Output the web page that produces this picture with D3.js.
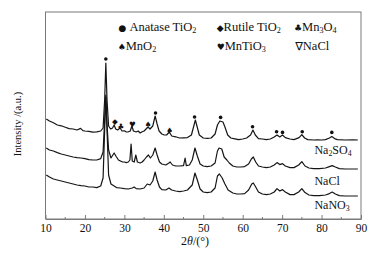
<!DOCTYPE html>
<html>
<head>
<meta charset="utf-8">
<script src="https://cdn.jsdelivr.net/npm/d3@7"></script>
<style>
  body { margin: 0; background: #fff; }
  svg text { font-family: "Liberation Serif", "Times New Roman", serif; fill: #111; }
</style>
</head>
<body>
<div id="chart"></div>
<script>

// XRD patterns, 2theta (deg) vs intensity (a.u., stacked)
var na2so4 = [
    [10.2,500],[11,490],[12,481],[13,470],[14,466],[15,459],[16,452],[17,450],[18,445],[18.9,453],[19.5,442],
    [20,440],[21,438],[22,434],[23,436],[24,440],[24.6,455],[25.0,595],[25.3,780],[25.6,595],[26.0,465],
    [26.5,450],[27.0,455],[27.4,470],[27.8,450],[28.3,445],[28.9,455],[29.4,440],[30,441],[30.5,435],
    [31,436],[31.5,440],[31.9,465],[32.3,440],[33,435],[33.5,440],[34,430],[34.5,436],[35,440],[35.5,450],
    [36.0,460],[36.5,450],[37.2,465],[37.8,515],[38.3,475],[38.8,440],[39.5,425],[40,421],[40.7,420],
    [41.4,435],[42,415],[43,411],[44,405],[45,406],[46,407],[47,420],[47.6,465],[48.0,495],[48.4,465],
    [49,420],[50,405],[51,403],[52,405],[53,425],[53.6,470],[54.2,490],[55.0,485],[55.5,460],[56.2,420],
    [57,405],[58,401],[59,397],[60,400],[61,405],[62,420],[62.6,445],[63.2,420],[64,402],[65,400],[66,397],
    [67,400],[68,410],[68.7,420],[69.4,410],[70.1,420],[70.8,407],[72,400],[73,397],[74.3,407],[75.0,422],
    [75.7,405],[76.5,397],[78,395],[79,396],[80,395],[81,397],[82,405],[82.6,412],[83.3,402],[84,397],
    [86,395],[88,396],[89.2,395]
];
var nacl = [
    [10.2,355],[11,345],[12,340],[13,332],[14,325],[15,320],[16,315],[17,310],[18,307],[19,305],[20,302],
    [21,297],[22,295],[23,295],[24,302],[24.6,335],[25.0,495],[25.3,610],[25.6,470],[26.0,345],[26.6,305],
    [27.4,330],[28,310],[28.5,295],[29,290],[29.5,285],[30,285],[30.5,282],[31,285],[31.4,295],[31.7,375],
    [32.0,290],[32.5,285],[32.9,320],[33.3,285],[34,280],[34.5,285],[35,295],[35.6,310],[36.1,320],
    [36.6,305],[37.2,320],[37.8,355],[38.3,320],[38.9,285],[39.5,275],[40.5,270],[41.3,280],[41.6,285],
    [42.2,270],[43,265],[44,265],[45,267],[45.4,305],[45.7,267],[46.5,270],[47.2,295],[47.9,355],[48.5,315],
    [49.2,275],[50,265],[51,262],[52,265],[53,280],[53.6,340],[54.0,355],[54.7,350],[55.3,310],[56,295],
    [56.6,280],[57.5,265],[58.5,260],[59.5,260],[60.5,262],[61.5,275],[62.2,300],[62.7,310],[63.3,285],
    [64,265],[65,260],[66,257],[67,260],[68,270],[68.7,282],[69.4,272],[70.1,277],[70.8,265],[72,257],
    [73,257],[74.2,270],[75.0,287],[75.8,265],[76.8,255],[78,252],[79.5,252],[81,255],[82,262],[82.7,267],
    [83.5,260],[84.5,252],[86,250],[88,250],[89.2,250]
];
var nano3 = [
    [10.2,220],[11,210],[12,200],[13,195],[14,190],[15,185],[16,180],[17,175],[18,170],[19,167],[20,165],
    [21,160],[22,160],[23,157],[24,165],[24.6,205],[25.0,445],[25.3,620],[25.6,445],[26.0,220],[26.6,175],
    [27.4,165],[28,157],[29,155],[30,152],[31,150],[32,155],[32.5,160],[33,152],[34,150],[35,155],
    [35.8,175],[36.5,170],[37.2,190],[37.8,235],[38.3,195],[38.9,160],[39.5,147],[40.5,145],[41.3,155],
    [42,145],[43,140],[44,137],[45,140],[46,145],[47.2,170],[47.9,230],[48.5,195],[49.2,150],[50,135],
    [51,132],[52,135],[53,155],[53.6,215],[54.1,225],[54.8,205],[55.5,175],[56.3,145],[57.5,130],[58.5,125],
    [59.5,125],[60.5,127],[61.5,145],[62.3,175],[62.7,180],[63.3,160],[64,135],[65,125],[66,122],[67,125],
    [68,135],[68.7,152],[69.4,140],[70.1,147],[70.8,135],[72,122],[73,122],[74.2,135],[75.0,152],[75.8,132],
    [76.8,120],[78,117],[79.5,117],[81,120],[82,127],[82.7,135],[83.5,125],[84.5,117],[86,115],[88,115],
    [89.2,115]
];

// phase markers on the Na2SO4 pattern
var anataseMarks = [[25.3,800],[37.9,530],[47.8,510],[54.4,508],[62.5,461],[68.6,436],[70.1,433],[75.1,436],[82.6,433]];
var otherMarks = [[27.6,"\u25C6",489],[29.1,"\u2663",461],[32.0,"\u2665",474],[36.0,"\u2660",474],[41.5,"\u2660",445]];

var sampleNames = ["Na2SO4","NaCl","NaNO3"];
var sampleLevels = [325, 170, 50];
var xTicks = [10,20,30,40,50,60,70,80,90];
var xMinorTicks = [15,25,35,45,55,65,75,85];

var width = 377, height = 261;
var margin = {top: 12, right: 16, bottom: 42, left: 45.5};

var svg = d3.select("#chart").append("svg")
    .attr("width", width)
    .attr("height", height);

var x = d3.scaleLinear().domain([10, 90]).range([margin.left, width - margin.right]);
var y = d3.scaleLinear().domain([0, 1035]).range([height - margin.bottom, margin.top]);

// frame
svg.append("rect")
    .attr("x", x(10)).attr("y", y(1035))
    .attr("width", x(90) - x(10)).attr("height", y(0) - y(1035))
    .attr("fill", "none").attr("stroke", "#7a7a7a").attr("stroke-width", 1);

// x axis, ticks pointing inward
var xAxis = svg.append("g")
    .attr("transform", "translate(0," + y(0) + ")")
    .call(d3.axisBottom(x).tickValues(xTicks).tickSizeInner(-4).tickSizeOuter(0).tickPadding(5));
xAxis.select(".domain").attr("stroke", "#7a7a7a");
xAxis.selectAll(".tick line").attr("stroke", "#7a7a7a");
xAxis.selectAll("text").attr("font-size", 11.5).attr("fill", "#111")
    .style("font-family", "'Liberation Serif', serif");

svg.append("g")
    .selectAll("line")
    .data(xMinorTicks)
    .enter()
    .append("line")
    .attr("x1", function(d){ return x(d); }).attr("x2", function(d){ return x(d); })
    .attr("y1", y(0)).attr("y2", y(0) - 2)
    .attr("stroke", "#7a7a7a");

// patterns
var line = d3.line()
    .x(function(d){ return x(d[0]); })
    .y(function(d){ return y(d[1]); });

svg.append("g")
    .selectAll("path")
    .data([na2so4, nacl, nano3])
    .enter()
    .append("path")
    .attr("d", line)
    .attr("fill", "none")
    .attr("stroke", "#151515")
    .attr("stroke-width", 1.2)
    .attr("stroke-linejoin", "round");

// markers
svg.append("g")
    .selectAll("circle")
    .data(anataseMarks)
    .enter()
    .append("circle")
    .attr("cx", function(d){ return x(d[0]); })
    .attr("cy", function(d){ return y(d[1]); })
    .attr("r", 1.8)
    .attr("fill", "#111");

svg.append("g")
    .selectAll("text")
    .data(otherMarks)
    .enter()
    .append("text")
    .attr("x", function(d){ return x(d[0]); })
    .attr("y", function(d){ return y(d[2]); })
    .attr("text-anchor", "middle")
    .attr("dy", "0.35em")
    .attr("font-size", 7.5)
    .style("font-family", "'DejaVu Sans', sans-serif")
    .text(function(d){ return d[1]; });

// text with subscripts
var subText = function(sel, str){
    var parts = str.match(/[A-Za-z]+|\d+/g);
    parts.forEach(function(p){
        if (/^\d+$/.test(p)) {
            sel.append("tspan").attr("font-size", "0.65em").attr("baseline-shift", "-25%").text(p);
        }
        else {
            sel.append("tspan").text(p);
        }
    });
};

// sample labels
sampleNames.forEach(function(n, i){
    var t = svg.append("text")
        .attr("x", x(78.2))
        .attr("y", y(sampleLevels[i]))
        .attr("font-size", 12);
    subText(t, n);
});

// legend
var legend = [
    {sym: "\u25CF", label: "Anatase TiO2", x: 28.5, row: 0, sep: " "},
    {sym: "\u25C6", label: "Rutile TiO2", x: 53.4, row: 0, sep: ""},
    {sym: "\u2663", label: "Mn3O4", x: 73.0, row: 0, sep: ""},
    {sym: "\u2660", label: "MnO2", x: 28.3, row: 1, sep: ""},
    {sym: "\u2665", label: "MnTiO3", x: 53.4, row: 1, sep: ""},
    {sym: "\u2207", label: "NaCl", x: 73.3, row: 1, sep: ""}
];
legend.forEach(function(d){
    var t = svg.append("text")
        .attr("x", x(d.x))
        .attr("y", y(1035) + 19 + d.row * 19)
        .attr("font-size", 12.5);
    t.append("tspan").attr("font-size", d.sym === "\u2207" ? 11.5 : 9)
        .style("font-family", "'DejaVu Sans', sans-serif")
        .text(d.sym);
    if (d.sep) t.append("tspan").text("\u00A0");
    d.label.split(" ").forEach(function(w, i){
        if (i > 0) t.append("tspan").text(" ");
        subText(t, w);
    });
});

// axis titles
var xt = svg.append("text")
    .attr("x", 195)
    .attr("y", height - 16)
    .attr("text-anchor", "middle")
    .attr("font-size", 12);
xt.append("tspan").text("2");
xt.append("tspan").attr("font-style", "italic").text("\u03B8");
xt.append("tspan").text("/(\u00B0)");

svg.append("text")
    .attr("transform", "translate(21," + 124 + ") rotate(-90)")
    .attr("text-anchor", "middle")
    .attr("font-size", 10.5)
    .text("Intensity /(a.u.)");

</script>
</body>
</html>
